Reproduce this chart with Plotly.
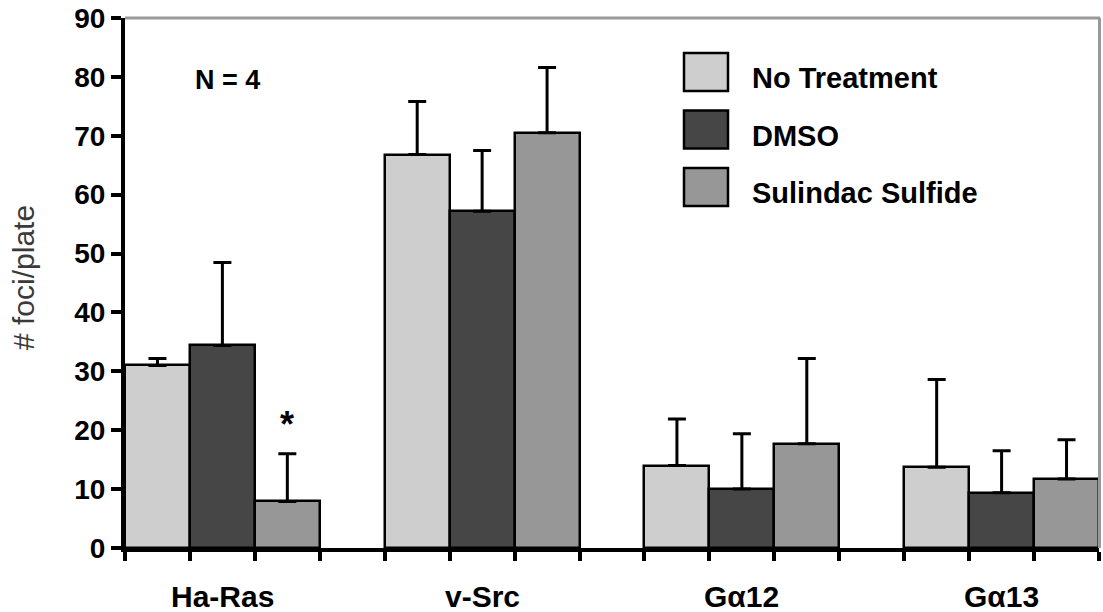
import plotly.graph_objects as go

categories = ["Ha-Ras", "v-Src", "G\u03b112", "G\u03b113"]
series_names = ["No Treatment", "DMSO", "Sulindac Sulfide"]
series_colors = ["#cecece", "#464646", "#979797"]
values = {
    "No Treatment":     [31.0, 66.8, 14.0, 13.7],
    "DMSO":             [34.4, 57.2, 10.0, 9.4],
    "Sulindac Sulfide": [7.9, 70.5, 17.7, 11.7],
}
err_upper = {
    "No Treatment":     [1.2, 9.0, 7.9, 14.9],
    "DMSO":             [14.1, 10.3, 9.4, 7.1],
    "Sulindac Sulfide": [8.1, 11.1, 14.5, 6.7],
}
y_ticks = [0, 10, 20, 30, 40, 50, 60, 70, 80, 90]
y_title = "# foci/plate"
annotation_n = "N = 4"
significance = {"series": "Sulindac Sulfide", "category": "Ha-Ras", "mark": "*", "y": 20.9}

W, H = 1103, 612
ML, MR, MT, MB = 125, 4, 18, 64
PW, PH = W - ML - MR, H - MT - MB
FONT = "Liberation Sans, Arial, sans-serif"

def px_x(x):
    return (x - ML) / PW

def px_y(y):
    return 1 - (y - MT) / PH

slots_per_cat = len(series_names) + 1
n_slots = slots_per_cat * len(categories) - 1

fig = go.Figure()
for j, name in enumerate(series_names):
    xs = [slots_per_cat * i + j + 0.5 for i in range(len(categories))]
    fig.add_trace(go.Bar(
        x=xs, y=values[name], width=1.0, name=name,
        marker=dict(color=series_colors[j], line=dict(color="black", width=2.5)),
        error_y=dict(type="data", symmetric=False, array=err_upper[name],
                     arrayminus=[0] * len(categories), color="black",
                     thickness=3, width=9),
        showlegend=False,
    ))

annotations = []
for i, c in enumerate(categories):
    annotations.append(dict(
        x=slots_per_cat * i + 1.5, y=px_y(596), xref="x", yref="paper",
        text="<b>%s</b>" % c, showarrow=False, xanchor="center", yanchor="middle",
        font=dict(family=FONT, size=30, color="black")))

# significance star
si = categories.index(significance["category"])
sj = series_names.index(significance["series"])
annotations.append(dict(
    x=slots_per_cat * si + sj + 0.5, y=significance["y"], xref="x", yref="y",
    text="<b>%s</b>" % significance["mark"], showarrow=False,
    xanchor="center", yanchor="middle",
    font=dict(family=FONT, size=36, color="black")))

annotations.append(dict(
    x=px_x(193), y=px_y(80), xref="paper", yref="paper", text="<b>%s</b>" % annotation_n,
    showarrow=False, xanchor="left", yanchor="middle",
    font=dict(family=FONT, size=27, color="black")))

# y-axis title
annotations.append(dict(
    x=px_x(23), y=px_y(278), xref="paper", yref="paper", text=y_title,
    showarrow=False, xanchor="center", yanchor="middle", textangle=-90,
    font=dict(family=FONT, size=30, color="#3a3a3a")))

shapes = []
# gray top and right frame
shapes.append(dict(type="line", xref="paper", yref="paper", x0=0, x1=px_x(1100),
                   y0=1, y1=1, line=dict(color="#999999", width=3)))
shapes.append(dict(type="line", xref="paper", yref="paper", x0=px_x(1099.5), x1=px_x(1099.5),
                   y0=0, y1=1, line=dict(color="#999999", width=3)))

# legend
for k, name in enumerate(series_names):
    top = 53 + k * 57.5
    shapes.append(dict(type="rect", xref="paper", yref="paper",
                       x0=px_x(684), x1=px_x(728), y0=px_y(top + 38), y1=px_y(top),
                       fillcolor=series_colors[k], line=dict(color="black", width=2.5)))
    annotations.append(dict(
        x=px_x(750), y=px_y(top + 25), xref="paper", yref="paper",
        text="<b>%s</b>" % name, showarrow=False, xanchor="left", yanchor="middle",
        font=dict(family=FONT, size=29, color="black")))

fig.update_layout(
    width=W, height=H,
    margin=dict(l=ML, r=MR, t=MT, b=MB, autoexpand=False),
    paper_bgcolor="white", plot_bgcolor="white",
    barmode="overlay", bargap=0,
    annotations=annotations, shapes=shapes,
    xaxis=dict(range=[0, n_slots], tickvals=list(range(n_slots + 1)), showticklabels=False,
               ticks="outside", ticklen=9, tickwidth=4, tickcolor="black",
               showline=True, linecolor="black", linewidth=4, showgrid=False,
               zeroline=False, fixedrange=True, automargin=False),
    yaxis=dict(range=[0, 90], tickvals=y_ticks, ticktext=["<b>%d</b>" % t for t in y_ticks],
               ticks="outside", ticklen=10, tickwidth=4, tickcolor="black",
               showline=True, linecolor="black", linewidth=4, showgrid=False,
               zeroline=False, fixedrange=True, automargin=False,
               tickfont=dict(family=FONT, size=28, color="black")),
)

fig.write_html("out.html", config={"displayModeBar": False},
               post_script="document.body.style.margin='0';document.body.style.overflow='hidden';")
